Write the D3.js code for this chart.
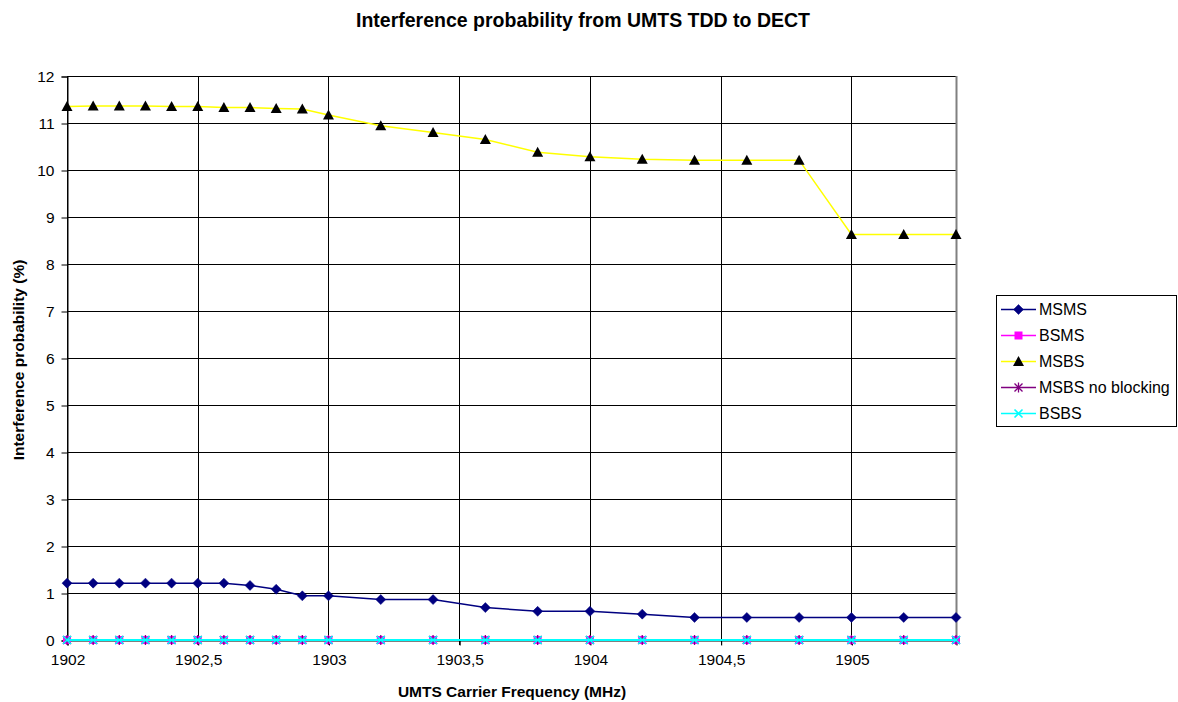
<!DOCTYPE html>
<html>
<head>
<meta charset="utf-8">
<script src="https://cdn.jsdelivr.net/npm/d3@7"></script>
<style>
  html, body { margin: 0; padding: 0; background: #fff; }
  svg { display: block; font-family: "Liberation Sans", Arial, sans-serif; }
</style>
</head>
<body>
<svg id="chart" width="1178" height="702"></svg>
<script>
// ---- data ----
const frequencies = [1902, 1902.1, 1902.2, 1902.3, 1902.4, 1902.5, 1902.6, 1902.7, 1902.8, 1902.9,
  1903, 1903.2, 1903.4, 1903.6, 1903.8, 1904, 1904.2, 1904.4, 1904.6, 1904.8, 1905, 1905.2, 1905.4];
const msms = [1.21, 1.21, 1.21, 1.21, 1.21, 1.21, 1.21, 1.16, 1.08, 0.94,
  0.94, 0.86, 0.86, 0.69, 0.61, 0.61, 0.55, 0.48, 0.48, 0.48, 0.48, 0.48, 0.48];
const bsms = frequencies.map(() => 0);
const msbs = [11.35, 11.36, 11.36, 11.36, 11.35, 11.35, 11.33, 11.33, 11.31, 11.30,
  11.17, 10.94, 10.80, 10.65, 10.38, 10.28, 10.23, 10.21, 10.21, 10.21, 8.63, 8.63, 8.63];
const msbsNoBlocking = frequencies.map(() => 0);
const bsbs = frequencies.map(() => 0);
const seriesNames = ["MSMS", "BSMS", "MSBS", "MSBS no blocking", "BSBS"];
const xTicks = [1902, 1902.5, 1903, 1903.5, 1904, 1904.5, 1905];
const yTicks = [0, 1, 2, 3, 4, 5, 6, 7, 8, 9, 10, 11, 12];
const titleText = "Interference probability from UMTS TDD to DECT";
const xTitle = "UMTS Carrier Frequency (MHz)";
const yTitle = "Interference probability (%)";

const series = [
  { name: seriesNames[0], values: msms, line: "#000080", marker: "diamond", mfill: "#000080" },
  { name: seriesNames[1], values: bsms, line: "#FF00FF", marker: "square", mfill: "#FF00FF" },
  { name: seriesNames[2], values: msbs, line: "#FFFF00", marker: "triangle", mfill: "#000000" },
  { name: seriesNames[3], values: msbsNoBlocking, line: "#800080", marker: "star", mfill: "#800080" },
  { name: seriesNames[4], values: bsbs, line: "#00FFFF", marker: "x", mfill: "#00FFFF" }
];

// ---- layout ----
const svg = d3.select("#chart");
const FONT = "Liberation Sans, Arial, sans-serif";
const L = 67, R = 956, T = 76, B = 640;
const x = d3.scaleLinear().domain([1902, 1905.4]).range([L, R]);
const y = d3.scaleLinear().domain([0, 12]).range([B, T]);

// title
svg.append("text").attr("x", 583).attr("y", 27).attr("text-anchor", "middle")
  .attr("font-weight", "bold").attr("font-size", 19.5).text(titleText);

// gridlines
const g = svg.append("g");
g.selectAll(".hg").data(yTicks).join("line")
  .attr("x1", L).attr("x2", R).attr("y1", d => Math.round(y(d)) + 0.5).attr("y2", d => Math.round(y(d)) + 0.5)
  .attr("stroke", "#000").attr("stroke-width", 1);
g.selectAll(".vg").data(xTicks).join("line")
  .attr("x1", d => Math.round(x(d)) + 0.5).attr("x2", d => Math.round(x(d)) + 0.5)
  .attr("y1", T).attr("y2", B + 5)
  .attr("stroke", "#000").attr("stroke-width", 1);
// right border (gray)
g.append("line").attr("x1", R + 0.5).attr("x2", R + 0.5).attr("y1", T).attr("y2", B + 1)
  .attr("stroke", "#808080").attr("stroke-width", 2);

// axes
const yAxis = d3.axisLeft(y).tickValues(yTicks).tickSize(6).tickPadding(7).tickFormat(d3.format("d"));
const yg = svg.append("g").attr("transform", `translate(${L + 0.5},0.5)`).call(yAxis);
yg.select(".domain").attr("stroke", "#000");
yg.selectAll(".tick text").attr("font-size", 15.5).attr("font-family", FONT).attr("fill", "#000");
yg.selectAll(".tick line").attr("stroke", "#000");

const xAxis = d3.axisBottom(x).tickValues(xTicks).tickSize(5).tickPadding(8)
  .tickFormat(d => String(d).replace(".", ","));
const xg = svg.append("g").attr("transform", `translate(0.5,${B + 0.5})`).call(xAxis);
xg.select(".domain").attr("stroke", "#000");
xg.selectAll(".tick text").attr("font-size", 15.5).attr("font-family", FONT).attr("fill", "#000");
xg.selectAll(".tick line").attr("stroke", "#000");

// axis titles
svg.append("text").attr("x", 512).attr("y", 697).attr("text-anchor", "middle")
  .attr("font-weight", "bold").attr("font-size", 15.5).text(xTitle);
svg.append("text").attr("transform", "translate(24,360) rotate(-90)").attr("text-anchor", "middle")
  .attr("font-weight", "bold").attr("font-size", 15.5).text(yTitle);

// marker drawing
function drawMarker(sel, type, color) {
  if (type === "diamond") {
    sel.append("path").attr("d", "M0,-5L5,0L0,5L-5,0Z").attr("fill", color).attr("stroke", color).attr("stroke-width", 0.5);
  } else if (type === "square") {
    sel.append("rect").attr("x", -4).attr("y", -4).attr("width", 8).attr("height", 8).attr("fill", color);
  } else if (type === "triangle") {
    sel.append("path").attr("d", "M0,-5.5L5.5,4.5L-5.5,4.5Z").attr("fill", color);
  } else if (type === "star") {
    sel.append("path").attr("d", "M-4,-4L4,4M-4,4L4,-4M0,-5L0,5").attr("stroke", color).attr("stroke-width", 1.3).attr("fill", "none");
  } else if (type === "x") {
    sel.append("path").attr("d", "M-4,-4L4,4M-4,4L4,-4").attr("stroke", color).attr("stroke-width", 1.6).attr("fill", "none");
  }
}

const line = d3.line().x(d => x(d[0])).y(d => y(d[1]));
series.forEach(s => {
  const pts = frequencies.map((f, i) => [f, s.values[i]]);
  const sg = svg.append("g");
  sg.append("path").datum(pts).attr("d", line).attr("fill", "none")
    .attr("stroke", s.line).attr("stroke-width", s.marker === "x" ? 2 : 1.5);
  sg.selectAll("g.m").data(pts).join("g").attr("class", "m")
    .attr("transform", d => `translate(${x(d[0])},${y(d[1])})`)
    .each(function () { drawMarker(d3.select(this), s.marker, s.mfill); });
});

// legend
const lg = svg.append("g");
lg.append("rect").attr("x", 996.5).attr("y", 295.5).attr("width", 180).attr("height", 131)
  .attr("fill", "#fff").attr("stroke", "#000").attr("stroke-width", 1);
series.forEach((s, i) => {
  const yy = 309.5 + i * 26;
  const row = lg.append("g");
  row.append("line").attr("x1", 1001).attr("x2", 1036).attr("y1", yy).attr("y2", yy)
    .attr("stroke", s.line).attr("stroke-width", 1.3);
  const m = row.append("g").attr("transform", `translate(1018.5,${yy})`);
  drawMarker(m, s.marker, s.mfill);
  row.append("text").attr("x", 1039).attr("y", yy + 5.5).attr("font-size", 16).text(s.name);
});
</script>
</body>
</html>
